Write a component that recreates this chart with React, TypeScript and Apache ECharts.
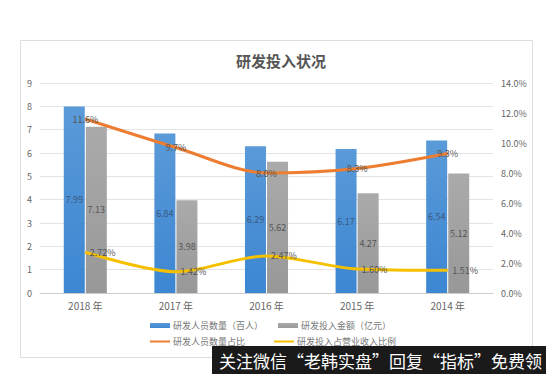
import React, { useEffect, useRef } from "react";
import * as echarts from "echarts";

const categories = ["2018 年", "2017 年", "2016 年", "2015 年", "2014 年"];
const staffCount = [7.99, 6.84, 6.29, 6.17, 6.54];
const rdAmount = [7.13, 3.98, 5.62, 4.27, 5.12];
const staffRatio = [11.6, 9.7, 8.0, 8.3, 9.3];
const revenueRatio = [2.72, 1.42, 2.47, 1.6, 1.51];
const staffRatioLabels = ["11.6%", "9.7%", "8.0%", "8.3%", "9.3%"];
const revenueRatioLabels = ["2.72%", "1.42%", "2.47%", "1.60%", "1.51%"];
const seriesNames = ["研发人员数量（百人）", "研发投入金额（亿元）", "研发人员数量占比", "研发投入占营业收入比例"];

const FONT = "'Noto Sans CJK SC', 'Noto Sans', sans-serif";

export default function App() {
  const ref = useRef<HTMLDivElement>(null);
  useEffect(() => {
    document.body.style.margin = "0";
    const chart = echarts.init(ref.current!, null, { renderer: "svg" });
    const barLabel = {
      show: true,
      position: "inside",
      fontSize: 9,
      fontFamily: FONT,
      color: "#3a5a80",
    };
    const legendText = { fontSize: 9, color: "#777777", fontFamily: FONT, padding: [0, 0, 0, -2] };
    chart.setOption({
      animation: false,
      backgroundColor: "#ffffff",
      textStyle: { fontFamily: FONT },
      title: {
        text: "研发投入状况",
        left: 276,
        top: 48,
        textAlign: "center",
        textStyle: { fontSize: 15, fontWeight: "bold", color: "#555555", fontFamily: FONT },
      },
      legend: [
        {
          data: [
            { name: seriesNames[0], icon: "rect" },
            { name: seriesNames[1], icon: "rect" },
          ],
          left: 150,
          top: 321,
          padding: 0,
          itemWidth: 20,
          itemHeight: 5,
          itemGap: 15,
          textStyle: legendText,
        },
        {
          data: [
            { name: seriesNames[2], icon: "rect" },
            { name: seriesNames[3], icon: "rect" },
          ],
          left: 150,
          top: 337,
          padding: 0,
          itemWidth: 20,
          itemHeight: 2,
          itemGap: 29,
          textStyle: legendText,
        },
      ],
      grid: { left: 40, right: 53, top: 83, bottom: 81 },
      xAxis: {
        type: "category",
        data: categories,
        axisLine: { lineStyle: { color: "#cccccc" } },
        axisTick: { show: false },
        axisLabel: { fontSize: 10, color: "#666666", margin: 7, fontFamily: FONT },
      },
      yAxis: [
        {
          type: "value",
          min: 0,
          max: 9,
          interval: 1,
          axisLine: { show: false },
          axisTick: { show: false },
          axisLabel: { fontSize: 9, color: "#666666", margin: 8, fontFamily: FONT },
          splitLine: { lineStyle: { color: "#e4e4e4" } },
        },
        {
          type: "value",
          min: 0,
          max: 14,
          interval: 2,
          axisLine: { show: false },
          axisTick: { show: false },
          axisLabel: {
            fontSize: 9,
            color: "#666666",
            margin: 8,
            fontFamily: FONT,
            formatter: (v: number) => v.toFixed(1) + "%",
          },
          splitLine: { show: false },
        },
      ],
      series: [
        {
          name: seriesNames[0],
          type: "bar",
          data: staffCount,
          barWidth: 21,
          barGap: "5%",
          itemStyle: {
            color: new echarts.graphic.LinearGradient(0, 0, 0, 1, [
              { offset: 0, color: "#5a9ad8" },
              { offset: 1, color: "#3c86d2" },
            ]),
          },
          label: barLabel,
        },
        {
          name: seriesNames[1],
          type: "bar",
          data: rdAmount,
          barWidth: 21,
          itemStyle: {
            color: new echarts.graphic.LinearGradient(0, 0, 0, 1, [
              { offset: 0, color: "#aaaaaa" },
              { offset: 1, color: "#989898" },
            ]),
          },
          label: { ...barLabel, color: "#555555" },
        },
        {
          name: seriesNames[2],
          type: "line",
          yAxisIndex: 1,
          data: staffRatio,
          smooth: 0.3,
          symbol: "circle",
          symbolSize: 1,
          lineStyle: { color: "#ed7d31", width: 3 },
          itemStyle: { color: "#ed7d31" },
          label: {
            show: true,
            position: "inside",
            fontSize: 9,
            color: "#555555",
            fontFamily: FONT,
            formatter: (p: any) => staffRatioLabels[p.dataIndex],
          },
          z: 5,
        },
        {
          name: seriesNames[3],
          type: "line",
          yAxisIndex: 1,
          data: revenueRatio,
          smooth: 0.3,
          symbol: "circle",
          symbolSize: 1,
          lineStyle: { color: "#f5c000", width: 3 },
          itemStyle: { color: "#f5c000" },
          label: {
            show: true,
            position: "right",
            distance: 4,
            fontSize: 9,
            color: "#555555",
            fontFamily: FONT,
            formatter: (p: any) => revenueRatioLabels[p.dataIndex],
          },
          z: 5,
        },
      ],
      graphic: [
        {
          type: "rect",
          shape: { x: 20.5, y: 40.5, width: 512, height: 317 },
          style: { fill: "none", stroke: "#dddddd", lineWidth: 1 },
          silent: true,
          z: -1,
        },
        {
          type: "rect",
          shape: { x: 212, y: 346, width: 334, height: 28 },
          style: { fill: "#1a1a1a" },
          z: 100,
        },
        {
          type: "text",
          x: 219,
          y: 360,
          style: {
            text: "关注微信“老韩实盘”回复“指标”免费领",
            fill: "#ffffff",
            fontSize: 17,
            fontFamily: FONT,
            verticalAlign: "middle",
          },
          z: 101,
        },
      ],
    });
    return () => chart.dispose();
  }, []);
  return <div ref={ref} style={{ width: 546, height: 374 }} />;
}
